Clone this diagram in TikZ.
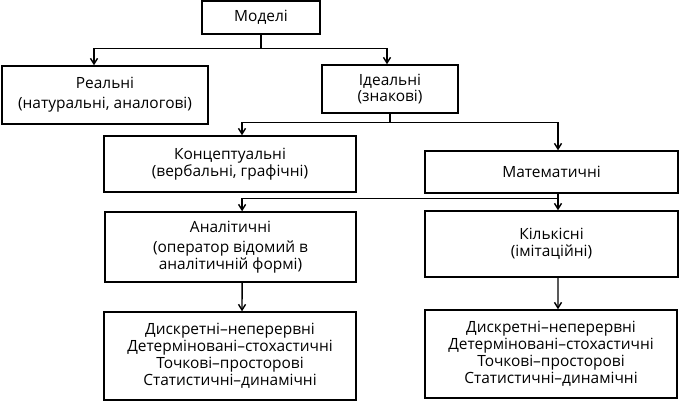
\documentclass[tikz,border=0pt]{standalone}
\usepackage{fontspec}
\setmainfont{Open Sans}
\usetikzlibrary{arrows.meta}

\begin{document}
\begin{tikzpicture}[x=0.025cm, y=-0.025cm, >={Straight Barb[length=4pt,width=5pt]},
        line width=1pt,
        every node/.style={draw, rectangle, align=center, inner sep=2pt,
            font=\fontsize{11}{12}\selectfont}]
                \useasboundingbox (0,0) rectangle (680,402);

                % Nodes
                \node[minimum width=2.95cm, minimum height=0.825cm] at (261, 17.5) (models) {Моделі};
                \node[minimum width=5.15cm, minimum height=1.45cm] at (105, 95) (real) {Реальні\\[2pt](натуральні, аналогові)};
                \node[minimum width=3.4cm, minimum height=1.2cm] at (390, 89) (ideal) {Ідеальні\\(знакові)};
                \node[minimum width=6.3cm, minimum height=1.4cm] at (230, 164) (concept) {Концептуальні\\(вербальні, графічні)};
                \node[minimum width=6.325cm, minimum height=1.05cm] at (551.5, 172) (math) {Математичні};
                \node[minimum width=6.275cm, minimum height=1.75cm] at (230.5, 247) (anal) {Аналітичні\\[2pt](оператор відомий в\\аналітичній формі)};
                \node[minimum width=6.325cm, minimum height=1.65cm] at (551.5, 244) (quant) {Кількісні\\(імітаційні)};
                \node[minimum width=6.3cm, minimum height=2.2cm] at (230, 356) (analkinds)
                    {Дискретні–неперервні\\Детерміновані–стохастичні\\Точкові–просторові\\Статистичні–динамічні};
                \node[minimum width=6.3cm, minimum height=2.2cm] at (551, 354) (quantkinds)
                    {Дискретні–неперервні\\Детерміновані–стохастичні\\Точкові–просторові\\Статистичні–динамічні};

                % Edges
                \draw[->] (models.south) -- ++(0, 14) -| ([xshift=-0.275cm]real.north);
                \draw[->] (models.south) -- ++(0, 14) -| ([xshift=-0.075cm]ideal.north);

                \draw[->] (ideal.south) -- ++(0, 9) -| ([xshift=0.3cm]concept.north);
                \draw[->] (ideal.south) -- ++(0, 9) -| ([xshift=0.1625cm]math.north);

                \draw[->] ([xshift=0.1625cm]math.south) -- ++(0, 5) -| ([xshift=0.29cm]anal.north);
                \draw[->] ([xshift=0.1625cm]math.south) -- ([xshift=0.1625cm]quant.north);

                \draw[->] ([xshift=0.29cm]anal.south) -- ([xshift=0.3cm]analkinds.north);
                \draw[->] ([xshift=0.1625cm]quant.south) -- ([xshift=0.175cm]quantkinds.north);
            \end{tikzpicture}
\end{document}
